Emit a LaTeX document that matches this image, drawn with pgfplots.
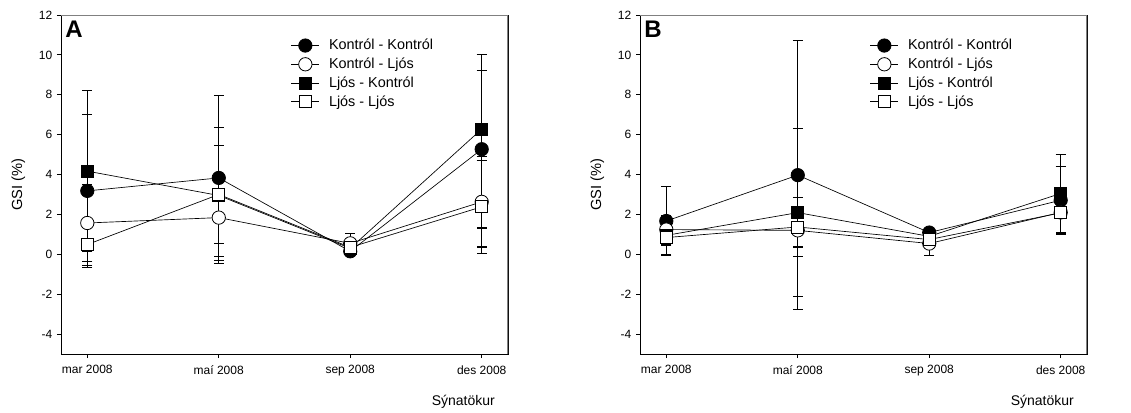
\documentclass[border=0pt]{standalone}
\usepackage{fontspec}
\setmainfont{Liberation Sans}
\usepackage{pgfplots}
\pgfplotsset{compat=1.18}

\pgfplotsset{
  gsipanel/.style={
    width=335.25pt, height=254.25pt, scale only axis,
    xmin=-0.2, xmax=3.2, ymin=-5, ymax=12,
    xtick={0,1,2,3},
    xticklabels={mar 2008,maí 2008,sep 2008,des 2008},
    ytick={-4,-2,0,2,4,6,8,10,12},
    tick align=outside, tick pos=left,
    major tick length=3pt,
    axis line style={line width=0.6pt},
    major tick style={line width=0.6pt, black},
    /pgf/number format/assume math mode=true,
    tick label style={font=\fontsize{9}{10}\selectfont},
    xticklabel style={yshift=-2pt},
    xlabel={Sýnatökur},
    xlabel style={font=\fontsize{10.5}{12}\selectfont, at={(rel axis cs:0.9,0)}, anchor=north, yshift=-27pt},
    ylabel={GSI (\%)},
    ylabel style={font=\fontsize{11}{12}\selectfont},
    ylabel shift=3.5pt,
    legend cell align=left,
    legend style={at={(rel axis cs:0.505,0.945)}, anchor=north west, draw=none, fill=none,
      font=\fontsize{10.8}{12}\selectfont, row sep=0.6pt,
      /tikz/every odd column/.append style={column sep=5pt}},
    legend image code/.code={
      \draw[mark repeat=2,mark phase=2,#1] plot coordinates {(0pt,0pt) (10.5pt,0pt) (21pt,0pt)};
    },
    every axis plot/.append style={black, line width=0.5pt},
    error bars/y dir=both, error bars/y explicit,
    error bars/error bar style={line width=1pt, black},
    error bars/error mark options={rotate=90, mark size=3.75pt, line width=0.9pt, black},
  },
  kk/.style={mark=*, mark size=5pt, mark options={fill=black, line width=0.6pt}},
  kl/.style={mark=*, mark size=5pt, mark options={fill=white, line width=0.6pt}},
  lk/.style={mark=square*, mark size=4.5pt, mark options={fill=black, line width=0.6pt}},
  ll/.style={mark=square*, mark size=4.5pt, mark options={fill=white, line width=0.6pt}},
}

\begin{document}
\begin{tikzpicture}
% panel A
\begin{axis}[gsipanel]
  \addplot[kk] coordinates {(0,3.18) +- (0,3.85) (1,3.83) +- (0,4.15) (2,0.15) +- (0,0.2) (3,5.27) +- (0,3.95)};
  \addlegendentry{Kontról - Kontról}
  \addplot[kl] coordinates {(0,1.57) +- (0,1.92) (1,1.84) +- (0,1.94) (2,0.55) +- (0,0.5) (3,2.63) +- (0,2.26)};
  \addlegendentry{Kontról - Ljós}
  \addplot[lk] coordinates {(0,4.17) +- (0,4.03) (1,2.95) +- (0,3.4) (2,0.3) +- (0,0.25) (3,6.28) +- (0,3.74)};
  \addlegendentry{Ljós - Kontról}
  \addplot[ll] coordinates {(0,0.49) +- (0,1.04) (1,3.0) +- (0,2.44) (2,0.35) +- (0,0.3) (3,2.38) +- (0,2.34)};
  \addlegendentry{Ljós - Ljós}
  \draw[gray, line width=1.4pt] (rel axis cs:0,1) -- (rel axis cs:1,1) -- (rel axis cs:1,0);
  \node[anchor=north west, font=\fontsize{18}{20}\selectfont\bfseries, inner sep=0pt] at ([xshift=3pt,yshift=-4pt]rel axis cs:0,1) {A};
\end{axis}
% panel B
\begin{axis}[gsipanel, at={(434.25pt,0pt)}]
  \addplot[kk] coordinates {(0,1.67) +- (0,1.71) (1,3.97) +- (0,6.74) (2,1.09) +- (0,0.2) (3,2.71) +- (0,1.71)};
  \addlegendentry{Kontról - Kontról}
  \addplot[kl] coordinates {(0,1.24) +- (0,0.7) (1,1.2) +- (0,0.83) (2,0.54) +- (0,0.62) (3,2.1) +- (0,1.1)};
  \addlegendentry{Kontról - Ljós}
  \addplot[lk] coordinates {(0,0.95) +- (0,0.5) (1,2.09) +- (0,4.22) (2,0.9) +- (0,0.2) (3,3.05) +- (0,1.95)};
  \addlegendentry{Ljós - Kontról}
  \addplot[ll] coordinates {(0,0.84) +- (0,0.35) (1,1.37) +- (0,1.48) (2,0.74) +- (0,0.3) (3,2.08) +- (0,1.05)};
  \addlegendentry{Ljós - Ljós}
  \draw[gray, line width=1.4pt] (rel axis cs:0,1) -- (rel axis cs:1,1) -- (rel axis cs:1,0);
  \node[anchor=north west, font=\fontsize{18}{20}\selectfont\bfseries, inner sep=0pt] at ([xshift=3pt,yshift=-4pt]rel axis cs:0,1) {B};
\end{axis}
\pgfresetboundingbox
\path (-45.75pt,-43.5pt) rectangle (802.5pt,265.5pt);
\end{tikzpicture}
\end{document}
